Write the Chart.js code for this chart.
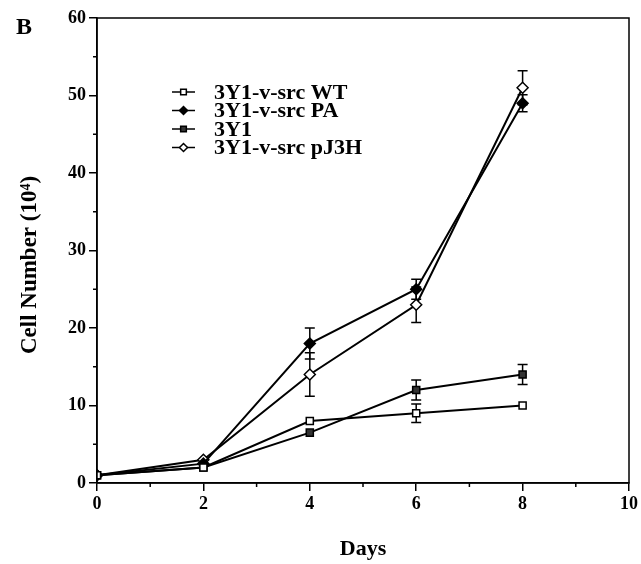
<!DOCTYPE html>
<html>
<head>
<meta charset="utf-8">
<script src="https://cdn.jsdelivr.net/npm/chart.js@4.4.1/dist/chart.umd.min.js"></script>
<style>
html, body { margin: 0; padding: 0; background: #fff; }
</style>
</head>
<body>
<canvas id="chart" width="641" height="564"></canvas>
<script>
// ==================== DATOS ====================
const days = [0, 2, 4, 6, 8];

const labelWT = '3Y1-v-src WT';
const labelPA = '3Y1-v-src PA';
const label3Y1 = '3Y1';
const labelPJ3H = '3Y1-v-src pJ3H';

const wtValues   = [1, 2, 8, 9, 10];
const wtErrors   = [0, 0, 0, 1.2, 0];
const paValues   = [1, 2.5, 18, 25, 49];
const paErrors   = [0, 0, 2, 1.3, 1.1];
const y1Values   = [1, 2, 6.5, 12, 14];
const y1Errors   = [0, 0, 0, 1.3, 1.3];
const pjValues   = [1, 3, 14, 23, 51];
const pjErrors   = [0, 0, 2.8, 2.3, 2.2];

const xTicks = [0, 2, 4, 6, 8, 10];
const yTicks = [0, 10, 20, 30, 40, 50, 60];

const yTitle = 'Cell Number (10⁴)';
const xTitle = 'Days';

const FONT = '"Liberation Serif", "Times New Roman", serif';

function toPoints(values) {
    return days.map((d, i) => ({ x: d, y: values[i] }));
}

// ==================== PLUGINS ====================
const errorBars = {
    id: 'errorBars',
    beforeDatasetsDraw(chart) {
        const ctx = chart.ctx;
        const xs = chart.scales.x;
        const ys = chart.scales.y;
        ctx.save();
        ctx.strokeStyle = '#000';
        ctx.lineWidth = 1.5;
        chart.data.datasets.forEach((ds) => {
            ds.errors.forEach((e, i) => {
                if (!e) return;
                const px = xs.getPixelForValue(ds.data[i].x);
                const top = ys.getPixelForValue(ds.data[i].y + e);
                const bot = ys.getPixelForValue(ds.data[i].y - e);
                ctx.beginPath();
                ctx.moveTo(px, top); ctx.lineTo(px, bot);
                ctx.moveTo(px - 5, top); ctx.lineTo(px + 5, top);
                ctx.moveTo(px - 5, bot); ctx.lineTo(px + 5, bot);
                ctx.stroke();
            });
        });
        ctx.restore();
    }
};

const frameAndMinor = {
    id: 'frameAndMinor',
    afterDraw(chart) {
        const ctx = chart.ctx;
        const a = chart.chartArea;
        const xs = chart.scales.x;
        const ys = chart.scales.y;
        ctx.save();
        ctx.strokeStyle = '#000';
        ctx.lineWidth = 1.5;
        ctx.strokeRect(a.left, a.top, a.right - a.left, a.bottom - a.top);
        ctx.beginPath();
        for (let v = 1; v < 10; v += 2) {
            const px = xs.getPixelForValue(v);
            ctx.moveTo(px, a.bottom); ctx.lineTo(px, a.bottom + 4);
        }
        for (let v = 5; v < 60; v += 10) {
            const py = ys.getPixelForValue(v);
            ctx.moveTo(a.left, py); ctx.lineTo(a.left - 4, py);
        }
        ctx.stroke();

        ctx.fillStyle = '#000';
        // letra del panel
        ctx.font = 'bold 24px ' + FONT;
        ctx.textBaseline = 'middle';
        ctx.fillText('B', 16, 28);

        // titulo eje Y (un poco por debajo del centro, como en el original)
        ctx.translate(30, 265);
        ctx.rotate(-Math.PI / 2);
        ctx.textAlign = 'center';
        ctx.font = 'bold 23px ' + FONT;
        ctx.fillText(yTitle, 0, 0);
        ctx.restore();
    }
};

const insideLegend = {
    id: 'insideLegend',
    afterDatasetsDraw(chart) {
        const ctx = chart.ctx;
        ctx.save();
        chart.data.datasets.forEach((ds, i) => {
            const y = 92 + i * 18.5;
            ctx.strokeStyle = '#000';
            ctx.lineWidth = 1.5;
            ctx.beginPath();
            ctx.moveTo(172, y); ctx.lineTo(195, y);
            ctx.stroke();
            ctx.fillStyle = ds.pointBackgroundColor;
            ctx.strokeStyle = '#000';
            ctx.lineWidth = 1.5;
            Chart.helpers.drawPoint(ctx, {
                pointStyle: ds.pointStyle, radius: 4, rotation: 0, borderWidth: 1.5
            }, 183.5, y);
            ctx.fillStyle = '#000';
            ctx.font = 'bold 22px ' + FONT;
            ctx.textBaseline = 'middle';
            ctx.fillText(ds.label, 214, y + 1);
        });
        ctx.restore();
    }
};

// ==================== CHART ====================
const baseDataset = {
    borderColor: '#000',
    borderWidth: 2,
    pointBorderColor: '#000',
    pointBorderWidth: 1.5,
    pointRadius: 5,
    tension: 0,
    fill: false
};

const ctx = document.getElementById('chart').getContext('2d');

const chart = new Chart(ctx, {
    type: 'line',
    data: {
        datasets: [
            { ...baseDataset, label: labelWT, data: toPoints(wtValues), errors: wtErrors,
              pointStyle: 'rect', pointBackgroundColor: '#fff' },
            { ...baseDataset, label: labelPA, data: toPoints(paValues), errors: paErrors,
              pointStyle: 'rectRot', pointBackgroundColor: '#000', pointRadius: 5.5 },
            { ...baseDataset, label: label3Y1, data: toPoints(y1Values), errors: y1Errors,
              pointStyle: 'rect', pointBackgroundColor: '#333' },
            { ...baseDataset, label: labelPJ3H, data: toPoints(pjValues), errors: pjErrors,
              pointStyle: 'rectRot', pointBackgroundColor: '#fff', pointRadius: 5.5 }
        ]
    },
    options: {
        responsive: false,
        animation: false,
        layout: { padding: { left: 0, right: 11, top: 18, bottom: 0 } },
        plugins: {
            legend: { display: false },
            tooltip: { enabled: false }
        },
        scales: {
            x: {
                type: 'linear',
                min: 0,
                max: 10,
                afterFit: (s) => { s.height = 81; },
                afterBuildTicks: (s) => { s.ticks = xTicks.map(v => ({ value: v })); },
                ticks: {
                    color: '#000',
                    padding: 3,
                    font: { family: FONT, size: 18, weight: 'bold' }
                },
                grid: { drawOnChartArea: false, drawTicks: true, tickLength: 8, color: '#000', lineWidth: 1.5 },
                border: { display: true, color: '#000', width: 1.5 },
                title: {
                    display: true,
                    text: xTitle,
                    color: '#000',
                    padding: { top: 0, bottom: 1 },
                    font: { family: FONT, size: 22, weight: 'bold' }
                }
            },
            y: {
                type: 'linear',
                min: 0,
                max: 60,
                afterFit: (s) => { s.width = 97; },
                afterBuildTicks: (s) => { s.ticks = yTicks.map(v => ({ value: v })); },
                ticks: {
                    color: '#000',
                    padding: 3,
                    font: { family: FONT, size: 18, weight: 'bold' }
                },
                grid: { drawOnChartArea: false, drawTicks: true, tickLength: 8, color: '#000', lineWidth: 1.5 },
                border: { display: true, color: '#000', width: 1.5 },
                title: { display: false }
            }
        }
    },
    plugins: [errorBars, insideLegend, frameAndMinor]
});
</script>
</body>
</html>
